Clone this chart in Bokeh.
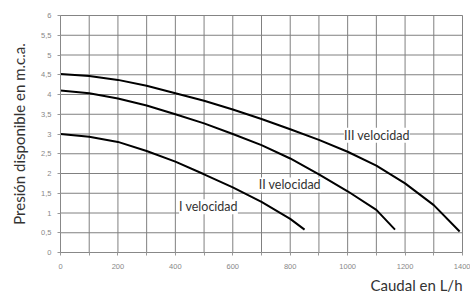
from bokeh.plotting import figure
from bokeh.models import Label, Title, FixedTicker, Range1d
from bokeh.embed import file_html
from bokeh.resources import INLINE

# Data
q1 = [0, 100, 200, 300, 400, 500, 600, 700, 800, 850]
h1 = [3.0, 2.93, 2.8, 2.57, 2.3, 1.98, 1.65, 1.28, 0.85, 0.58]

q2 = [0, 100, 200, 300, 400, 500, 600, 700, 800, 900, 1000, 1100, 1165]
h2 = [4.1, 4.03, 3.9, 3.72, 3.5, 3.27, 3.0, 2.72, 2.38, 1.98, 1.55, 1.08, 0.58]

q3 = [0, 100, 200, 300, 400, 500, 600, 700, 800, 900, 1000, 1100, 1200, 1300, 1390]
h3 = [4.52, 4.47, 4.37, 4.22, 4.03, 3.84, 3.62, 3.38, 3.12, 2.85, 2.55, 2.2, 1.75, 1.2, 0.53]

series_labels = ["I velocidad", "II velocidad", "III velocidad"]
label_pos = [(413, 1.16), (690, 1.71), (987, 2.97)]

x_min, x_max = 0, 1400
y_min, y_max = 0, 6
x_ticks = list(range(x_min, x_max + 1, 100))
x_tick_labels = {t: (str(t) if t % 200 == 0 else "") for t in x_ticks}
y_ticks = [i * 0.5 for i in range(13)]
y_tick_labels = {t: (("%g" % t).replace(".", ",")) for t in y_ticks}

p = figure(width=470, height=295, output_backend="svg", toolbar_location=None,
           x_range=Range1d(x_min, x_max), y_range=Range1d(y_min, y_max))
p.min_border_left = 60
p.min_border_right = 8
p.min_border_top = 15
p.min_border_bottom = 10

p.outline_line_color = "#888888"
p.background_fill_color = "white"
p.border_fill_color = "white"
p.xgrid.visible = False
p.ygrid.visible = False

for ax in (p.xaxis[0], p.yaxis[0]):
    ax.axis_line_color = "#888888"
    ax.major_tick_line_color = "#999999"
    ax.minor_tick_line_color = None
    ax.major_tick_out = 3
    ax.major_tick_in = 0
    ax.major_label_text_font = "Liberation Sans"
    ax.major_label_text_font_size = "7.5px"
    ax.major_label_text_color = "#888888"

p.xaxis[0].ticker = FixedTicker(ticks=x_ticks)
p.xaxis[0].major_label_overrides = x_tick_labels
p.xaxis[0].major_label_standoff = 8
p.yaxis[0].ticker = FixedTicker(ticks=y_ticks)
p.yaxis[0].major_label_overrides = y_tick_labels
p.yaxis[0].major_label_standoff = 6

p.yaxis[0].axis_label = "Presión disponible en m.c.a."
p.yaxis[0].axis_label_text_font = "Lato"
p.yaxis[0].axis_label_text_font_style = "normal"
p.yaxis[0].axis_label_text_font_size = "15px"
p.yaxis[0].axis_label_text_color = "#333333"
p.yaxis[0].axis_label_standoff = 10

# grid drawn as glyphs, beneath the curves
p.segment(x0=x_ticks, y0=[y_min] * len(x_ticks), x1=x_ticks, y1=[y_max] * len(x_ticks),
          line_color="#808080", line_width=1)
p.segment(x0=[x_min] * len(y_ticks), y0=y_ticks, x1=[x_max] * len(y_ticks), y1=y_ticks,
          line_color="#808080", line_width=1)

t = Title(text="Caudal en L/h", align="right", text_font="Lato",
          text_font_size="15px", text_font_style="normal", text_color="#333333",
          standoff=4)
p.add_layout(t, "below")

for q, h in ((q1, h1), (q2, h2), (q3, h3)):
    p.line(q, h, line_color="black", line_width=2)

for txt, (lx, ly) in zip(series_labels, label_pos):
    p.add_layout(Label(x=lx, y=ly, text=txt, text_font="Lato", text_font_size="12.5px",
                       text_color="#333333", text_baseline="middle",
                       background_fill_color="white", background_fill_alpha=1.0))

open("out.html", "w").write(file_html(p, INLINE))
